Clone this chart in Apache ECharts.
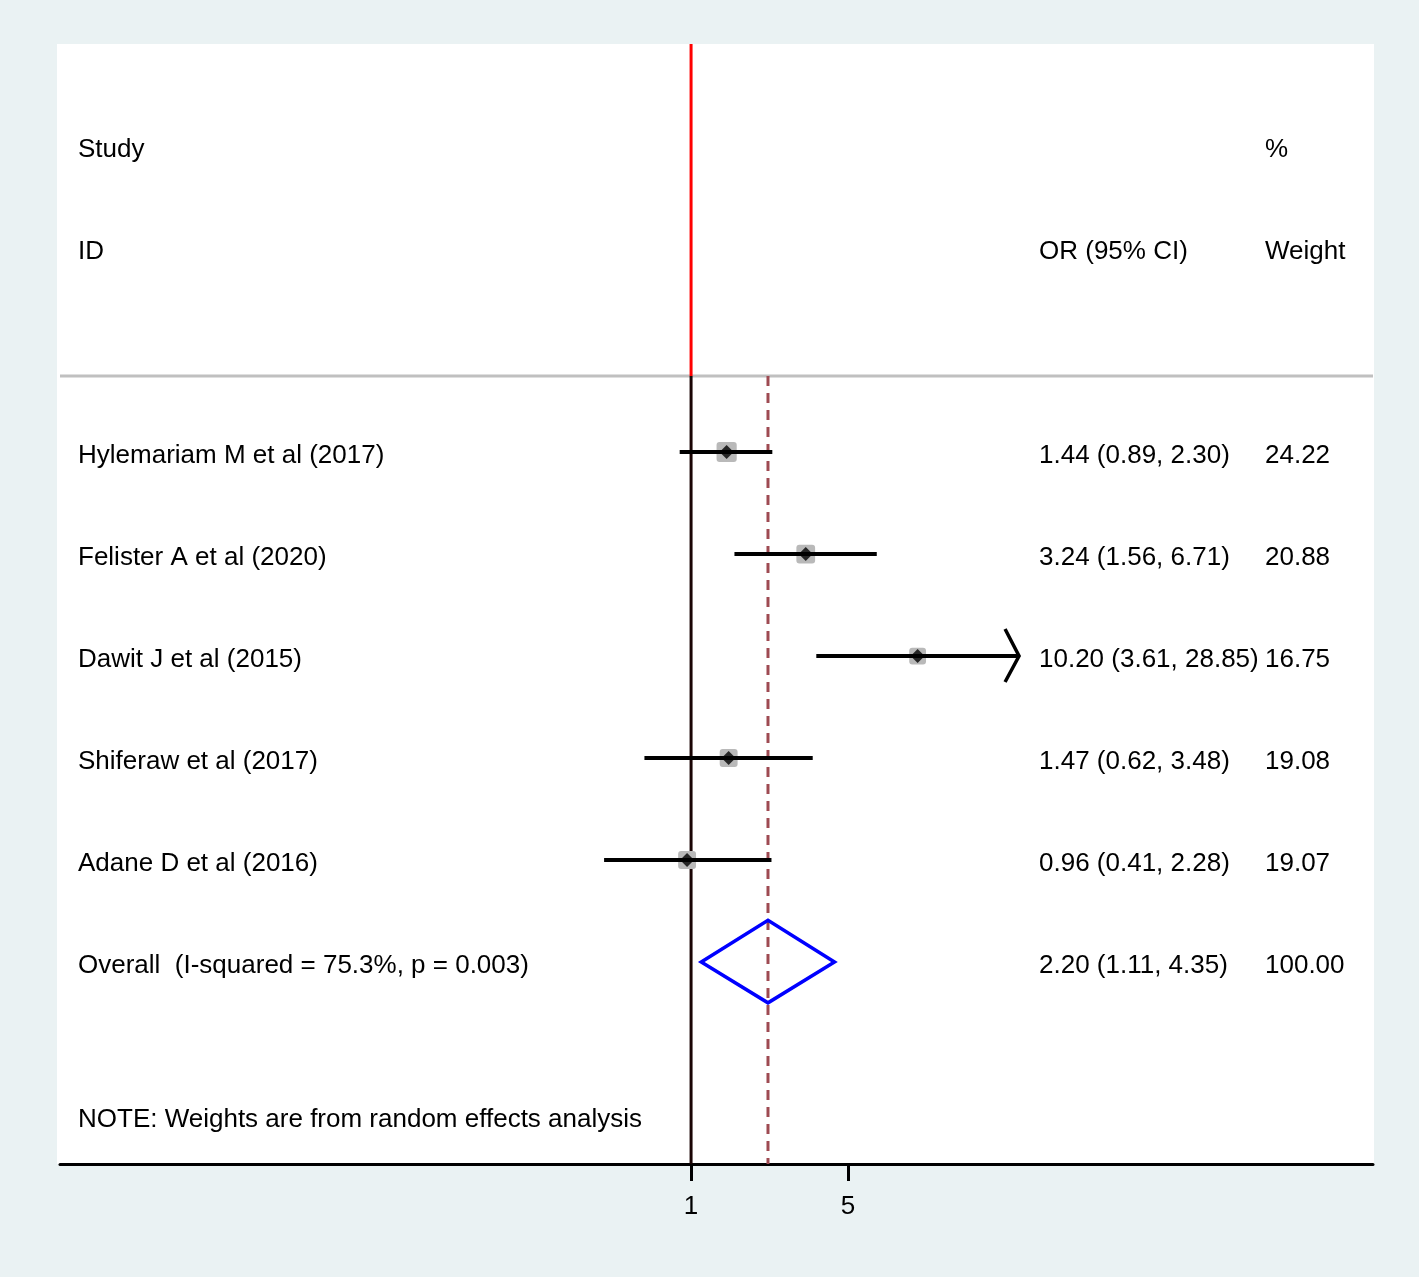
<!DOCTYPE html>
<html>
<head>
<meta charset="utf-8">
<title>Forest plot</title>
<script src="https://cdn.jsdelivr.net/npm/echarts@6/dist/echarts.min.js"></script>
<style>
  html, body { margin: 0; padding: 0; background: #eaf2f3; }
  #chart { width: 1419px; height: 1277px; }
</style>
</head>
<body>
<div id="chart"></div>
<script>
// study data
var studies = ['Hylemariam M et al (2017)', 'Felister A et al (2020)', 'Dawit J et al (2015)', 'Shiferaw et al (2017)', 'Adane D et al (2016)'];
var orValues = [1.44, 3.24, 10.20, 1.47, 0.96];
var ciLow = [0.89, 1.56, 3.61, 0.62, 0.41];
var ciHigh = [2.30, 6.71, 28.85, 3.48, 2.28];
var weights = [24.22, 20.88, 16.75, 19.08, 19.07];
var studyRows = [3, 4, 5, 6, 7];

// pooled estimate
var overallLabel = 'Overall  (I-squared = 75.3%, p = 0.003)';
var overallOr = [2.20, 1.11, 4.35];
var overallWeight = 100.00;
var overallRow = 8;

var tickValues = [1, 5];
var noteText = 'NOTE: Weights are from random effects analysis';

var FONT = "'Liberation Sans', Arial, Helvetica, sans-serif";
var xMin = 0.001551, xMax = 1086;
var sepRow = 2.255, noteRow = 9.51;
var arrowAbove = 20; // CI clipped with arrow past this

function fmtCi(o, l, h) {
  return o.toFixed(2) + ' (' + l.toFixed(2) + ', ' + h.toFixed(2) + ')';
}

// text table rows: [row, column, text]
var textRows = [
  [0, 'study', 'Study'], [0, 'weight', '%'],
  [1, 'study', 'ID'], [1, 'ci', 'OR (95% CI)'], [1, 'weight', 'Weight']
];
studies.forEach(function (s, i) {
  textRows.push([studyRows[i], 'study', s]);
  textRows.push([studyRows[i], 'ci', fmtCi(orValues[i], ciLow[i], ciHigh[i])]);
  textRows.push([studyRows[i], 'weight', weights[i].toFixed(2)]);
});
textRows.push([overallRow, 'study', overallLabel]);
textRows.push([overallRow, 'ci', fmtCi(overallOr[0], overallOr[1], overallOr[2])]);
textRows.push([overallRow, 'weight', overallWeight.toFixed(2)]);
textRows.push([noteRow, 'study', noteText]);

var colOffset = { study: 18, ci: 979, weight: 1205 };

var chart = echarts.init(document.getElementById('chart'));

var option = {
  backgroundColor: '#eaf2f3',
  animation: false,
  graphic: [{
    type: 'rect', z: -10, silent: true,
    shape: { x: 57, y: 44, width: 1317, height: 1120 },
    style: { fill: '#ffffff' }
  }],
  grid: { left: 60, right: 46, top: 44, bottom: 113 },
  xAxis: {
    type: 'log',
    min: xMin,
    max: xMax,
    axisLine: { show: true, onZero: false, lineStyle: { color: '#000', width: 3 } },
    axisTick: { show: true, customValues: tickValues, length: 17, lineStyle: { color: '#000', width: 3 } },
    axisLabel: { customValues: tickValues, fontSize: 26, color: '#000', fontFamily: FONT, margin: 30 },
    splitLine: { show: false },
    minorTick: { show: false }
  },
  yAxis: {
    type: 'value',
    inverse: true,
    min: -1,
    max: 9.98,
    show: false
  },
  series: [
    {
      // separator under the header
      type: 'line', showSymbol: false, silent: true, z: 1,
      data: [[xMin, sepRow], [xMax, sepRow]],
      lineStyle: { color: '#c0c0c0', width: 3 }
    },
    {
      type: 'line', showSymbol: false, silent: true, z: 2,
      data: [[1, -1], [1, sepRow]],
      lineStyle: { color: '#ff0000', width: 3 }
    },
    {
      type: 'line', showSymbol: false, silent: true, z: 2,
      data: [[1, sepRow], [1, 9.98]],
      lineStyle: { color: '#1a0404', width: 3 }
    },
    {
      type: 'line', showSymbol: false, silent: true, z: 2,
      data: [[overallOr[0], sepRow], [overallOr[0], 9.98]],
      lineStyle: { color: '#9e4a52', width: 3, type: [10, 7] }
    },
    {
      // weight boxes
      type: 'custom', z: 3, silent: true,
      data: orValues.map(function (v, i) { return [v, studyRows[i], weights[i]]; }),
      encode: { x: 0, y: 1 },
      renderItem: function (params, api) {
        var p = api.coord([api.value(0), api.value(1)]);
        var s = 4.1 * Math.sqrt(api.value(2));
        return {
          type: 'rect',
          shape: { x: p[0] - s / 2, y: p[1] - s / 2, width: s, height: s, r: 3 },
          style: { fill: '#b9b9b9' }
        };
      }
    },
    {
      // confidence intervals
      type: 'custom', z: 4, silent: true,
      data: orValues.map(function (v, i) { return [ciLow[i], ciHigh[i], studyRows[i]]; }),
      encode: { x: [0, 1], y: 2 },
      renderItem: function (params, api) {
        var hi = api.value(1);
        var p1 = api.coord([api.value(0), api.value(2)]);
        var p2 = api.coord([hi, api.value(2)]);
        var children = [{
          type: 'line',
          shape: { x1: p1[0], y1: p1[1], x2: p2[0], y2: p2[1] },
          style: { stroke: '#000', lineWidth: 4 }
        }];
        if (hi > arrowAbove) {
          children.push({
            type: 'polyline',
            shape: { points: [[p2[0] - 14, p2[1] - 27], [p2[0], p2[1]], [p2[0] - 14, p2[1] + 26]] },
            style: { stroke: '#000', lineWidth: 3.5, fill: null }
          });
        }
        return { type: 'group', children: children };
      }
    },
    {
      type: 'scatter', z: 5, silent: true,
      symbol: 'diamond', symbolSize: 14,
      itemStyle: { color: '#000' },
      data: orValues.map(function (v, i) { return [v, studyRows[i]]; })
    },
    {
      // pooled diamond
      type: 'custom', z: 5, silent: true,
      data: [[overallOr[0], overallOr[1], overallOr[2], overallRow]],
      encode: { x: [0, 1, 2], y: 3 },
      renderItem: function (params, api) {
        var row = api.value(3);
        var c = api.coord([api.value(0), row]);
        var l = api.coord([api.value(1), row]);
        var r = api.coord([api.value(2), row]);
        var top = api.coord([api.value(0), row - 0.41]);
        var bot = api.coord([api.value(0), row + 0.4]);
        return {
          type: 'polygon',
          shape: { points: [[l[0], c[1]], [c[0], top[1]], [r[0], c[1]], [c[0], bot[1]]] },
          style: { stroke: '#0000ff', lineWidth: 3.5, fill: 'rgba(0,0,0,0)', lineJoin: 'miter' }
        };
      }
    },
    {
      // text columns
      type: 'custom', z: 6, silent: true,
      data: textRows.map(function (t) { return [1, t[0]]; }),
      encode: { x: 0, y: 1 },
      renderItem: function (params, api) {
        var t = textRows[params.dataIndex];
        var p = api.coord([1, api.value(1)]);
        return {
          type: 'text',
          style: {
            x: params.coordSys.x + colOffset[t[1]],
            y: p[1] + 4,
            text: t[2],
            fill: '#000',
            font: '26px ' + FONT,
            verticalAlign: 'middle',
            align: 'left'
          }
        };
      }
    }
  ]
};

chart.setOption(option);
</script>
</body>
</html>
